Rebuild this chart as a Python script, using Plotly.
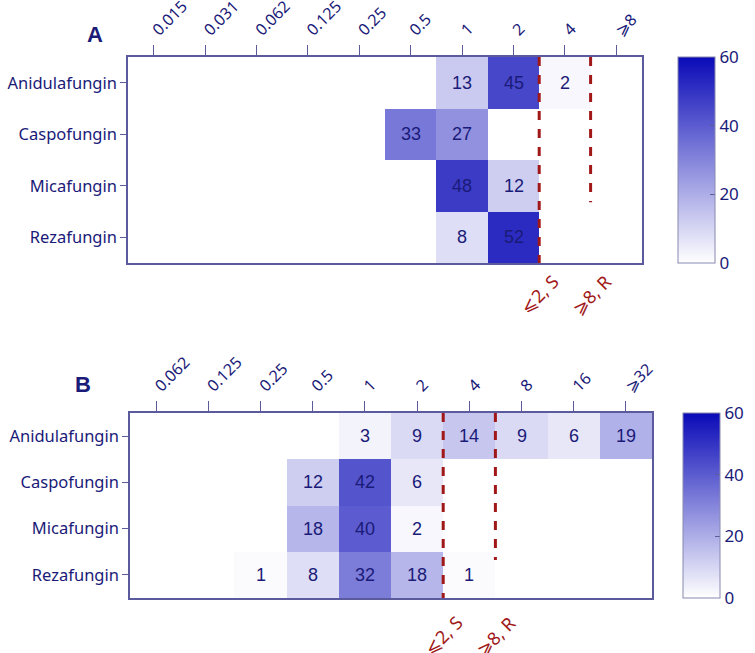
import plotly.graph_objects as go

# MIC distributions (number of isolates per concentration)
drugs = ["Anidulafungin", "Caspofungin", "Micafungin", "Rezafungin"]

mic_a = ["0.015", "0.031", "0.062", "0.125", "0.25", "0.5", "1", "2", "4", "⩾8"]
counts_a = [
    [None, None, None, None, None, None, 13, 45, 2, None],
    [None, None, None, None, None, 33, 27, None, None, None],
    [None, None, None, None, None, None, 48, 12, None, None],
    [None, None, None, None, None, None, 8, 52, None, None],
]

mic_b = ["0.062", "0.125", "0.25", "0.5", "1", "2", "4", "8", "16", "⩾32"]
counts_b = [
    [None, None, None, None, 3, 9, 14, 9, 6, 19],
    [None, None, None, 12, 42, 6, None, None, None, None],
    [None, None, None, 18, 40, 2, None, None, None, None],
    [None, None, 1, 8, 32, 18, 1, None, None, None],
]

# breakpoint lines: (x position between columns, label, bottom of the line in row units)
cuts_a = [(7.5, "⩽2, S", 3.5), (8.5, "⩾8, R", 2.32)]
cuts_b = [(5.5, "⩽2, S", 3.5), (6.5, "⩾8, R", 2.68)]

NAVY = "#1a1a78"
AXIS = "#5a5a9c"
RED = "#a01818"
scale = [[0, "#ffffff"], [1, "#0a0ab8"]]

W, H = 755, 653


def px(x):
    return x / W


def py(y):
    return 1 - y / H


fig = go.Figure()


def add_panel(n, cats, z, box, cbx, letter, lpos, cuts, lab_shift):
    xa = "x" if n == 1 else "x%d" % n
    ya = "y" if n == 1 else "y%d" % n
    xdom = [px(box[0]), px(box[1])]
    ydom = [py(box[3]), py(box[2])]
    text = [["" if v is None else str(v) for v in row] for row in z]
    fig.add_trace(go.Heatmap(
        z=z, x=list(range(len(cats))), y=list(range(len(drugs))),
        text=text, texttemplate="%{text}",
        textfont=dict(family="Liberation Sans, Arial", size=18, color=NAVY),
        colorscale=scale, zmin=0, zmax=60,
        xaxis=xa, yaxis=ya, hoverongaps=False,
        colorbar=dict(
            x=px(cbx), xanchor="left", y=ydom[0], yanchor="bottom",
            len=ydom[1] - ydom[0], lenmode="fraction", thickness=37,
            outlinecolor="#8888b0", outlinewidth=1,
            tickvals=[0, 20, 40, 60], ticks="inside", ticklen=5,
            tickcolor=AXIS, tickfont=dict(family="Noto Sans", size=17, color=NAVY),
            ypad=0, xpad=0,
        ),
    ))
    key = "" if n == 1 else str(n)
    fig.update_layout(**{
        "xaxis" + key: dict(
            domain=xdom, anchor=ya, side="top", range=[-0.5, len(cats) - 0.5],
            tickvals=list(range(len(cats))), ticktext=cats, tickangle=-45,
            ticks="outside", ticklen=10, tickcolor=AXIS, showgrid=False, zeroline=False,
            showline=True, linecolor=AXIS, linewidth=1.5, mirror=True, automargin=False,
            tickfont=dict(family="Noto Sans", size=16, color=NAVY),
        ),
        "yaxis" + key: dict(
            domain=ydom, anchor=xa, range=[3.5, -0.5],
            tickvals=list(range(len(drugs))), ticktext=drugs,
            ticks="outside", ticklen=6, tickcolor=AXIS, showgrid=False, zeroline=False,
            showline=True, linecolor=AXIS, linewidth=1.5, mirror=True, automargin=False,
            tickfont=dict(family="Noto Sans", size=16.5, color=NAVY),
        ),
    })
    for xc, label, yend in cuts:
        fig.add_shape(type="line", xref=xa, yref=ya, x0=xc, x1=xc, y0=-0.5, y1=yend,
                      line=dict(color=RED, width=3, dash="dash"))
        fig.add_annotation(x=xc, xref=xa, y=ydom[0], yref="paper", text=label,
                           showarrow=False, textangle=-45, xanchor="center",
                           yanchor="top", yshift=lab_shift,
                           font=dict(family="Noto Sans", size=18, color=RED))
    fig.add_annotation(x=px(lpos[0]), y=py(lpos[1]), xref="paper", yref="paper",
                       text="<b>%s</b>" % letter, showarrow=False,
                       font=dict(family="Liberation Sans, Arial", size=22, color=NAVY))


# boxes in window pixels: left, right, top, bottom
add_panel(1, mic_a, counts_a, (128, 642, 57, 263), 678, "A", (85, 20), cuts_a, -4)
add_panel(2, mic_b, counts_b, (130, 652, 413, 598), 683, "B", (73, 385), cuts_b, -10)

fig.update_layout(
    width=W, height=H, margin=dict(l=0, r=0, t=0, b=0),
    paper_bgcolor="white", plot_bgcolor="white", showlegend=False,
)

# drop the browser's default 8px body margin so the figure fills the window
fig.write_html("out.html", config={"displayModeBar": False},
               post_script="document.body.style.margin = '0';")
